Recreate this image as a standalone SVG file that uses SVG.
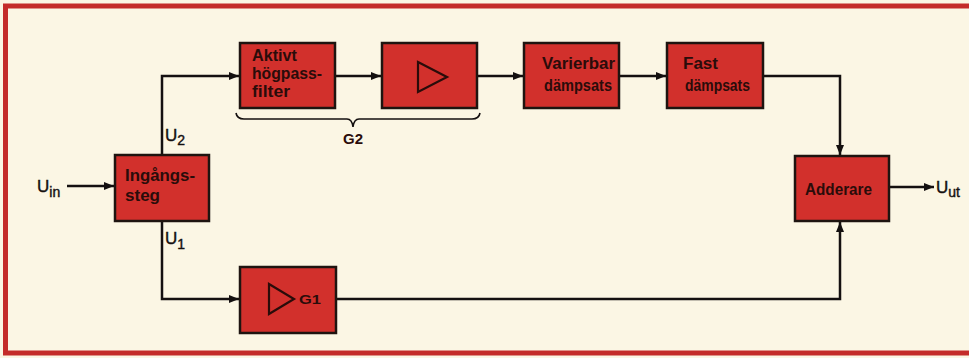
<svg xmlns="http://www.w3.org/2000/svg" width="969" height="358" viewBox="0 0 969 358">
<defs>
<style>
.box{fill:#d2302c;stroke:#1e1410;stroke-width:2.5}
.t{font-family:"Liberation Sans",Arial,sans-serif;font-weight:bold;font-size:16px;fill:#2a0c0a}
.lbl{font-family:"Liberation Sans",Arial,sans-serif;font-size:17px;fill:#141010;stroke:#141010;stroke-width:0.4}
.sub{font-size:14px}
.ln{fill:none;stroke:#141010;stroke-width:2.5}
.tri{fill:none;stroke:#2a0c0a;stroke-width:2.2;stroke-linejoin:miter}
</style>
<marker id="ah" viewBox="0 0 10 8" refX="10" refY="4" markerWidth="10" markerHeight="8" markerUnits="userSpaceOnUse" orient="auto">
<path d="M0,0 L10,4 L0,8 Z" fill="#141010"/>
</marker>
</defs>
<rect x="0" y="0" width="969" height="358" fill="#fbf6e4"/>
<rect x="5.5" y="6" width="966" height="347" fill="none" stroke="#c42c2a" stroke-width="5"/>

<g id="connectors">
<path class="ln" d="M67,186 L114,186" marker-end="url(#ah)"/>
<path class="ln" d="M162,155 L162,76 L239,76" marker-end="url(#ah)"/>
<path class="ln" d="M335,76 L381,76" marker-end="url(#ah)"/>
<path class="ln" d="M477,76 L523,76" marker-end="url(#ah)"/>
<path class="ln" d="M619,76 L666,76" marker-end="url(#ah)"/>
<path class="ln" d="M763,76 L840,76 L840,155" marker-end="url(#ah)"/>
<path class="ln" d="M162,221 L162,299 L239,299" marker-end="url(#ah)"/>
<path class="ln" d="M336,299 L840,299 L840,222" marker-end="url(#ah)"/>
<path class="ln" d="M889,187 L934,187" marker-end="url(#ah)"/>
</g>

<g id="brace">
<path d="M236,113 Q237,119 244,119 L347,119 Q352,119 353,127 Q354,119 359,119 L472,119 Q479,119 480,113" fill="none" stroke="#141010" stroke-width="1.6"/>
<text class="t" x="343" y="144" textLength="20" lengthAdjust="spacingAndGlyphs" style="font-size:14px">G2</text>
</g>

<g id="labels">
<text class="lbl" x="37" y="192">U<tspan class="sub" dy="5">in</tspan></text>
<text class="lbl" x="165" y="141">U<tspan class="sub" dy="4">2</tspan></text>
<text class="lbl" x="165" y="244">U<tspan class="sub" dy="5">1</tspan></text>
<text class="lbl" x="936" y="193">U<tspan class="sub" dy="4">ut</tspan></text>
</g>

<g id="ingangssteg">
<rect class="box" x="115" y="155" width="94" height="66"/>
<text class="t" x="125" y="181" textLength="70" lengthAdjust="spacingAndGlyphs">Ingångs-</text>
<text class="t" x="125" y="201" textLength="35" lengthAdjust="spacingAndGlyphs">steg</text>
</g>

<g id="hogpassfilter">
<rect class="box" x="240" y="43" width="95" height="65"/>
<text class="t" x="252" y="61" textLength="45" lengthAdjust="spacingAndGlyphs">Aktivt</text>
<text class="t" x="252" y="79" textLength="70" lengthAdjust="spacingAndGlyphs">högpass-</text>
<text class="t" x="252" y="97" textLength="38" lengthAdjust="spacingAndGlyphs">filter</text>
</g>

<g id="forstarkare2">
<rect class="box" x="382" y="43" width="95" height="65"/>
<path class="tri" d="M418,62 L447,77 L418,92 Z"/>
</g>

<g id="varierbar">
<rect class="box" x="524" y="43" width="95" height="65"/>
<text class="t" x="542" y="69" textLength="73" lengthAdjust="spacingAndGlyphs">Varierbar</text>
<text class="t" x="544" y="91" textLength="68" lengthAdjust="spacingAndGlyphs">dämpsats</text>
</g>

<g id="fast">
<rect class="box" x="667" y="43" width="96" height="65"/>
<text class="t" x="683" y="69" textLength="35" lengthAdjust="spacingAndGlyphs">Fast</text>
<text class="t" x="685" y="91" textLength="65" lengthAdjust="spacingAndGlyphs">dämpsats</text>
</g>

<g id="adderare">
<rect class="box" x="795" y="156" width="94" height="65"/>
<text class="t" x="805" y="195" textLength="67" lengthAdjust="spacingAndGlyphs">Adderare</text>
</g>

<g id="forstarkare1">
<rect class="box" x="240" y="267" width="96" height="66"/>
<path class="tri" d="M269,284 L294,299 L269,314 Z"/>
<text class="t" x="299" y="304" textLength="22" lengthAdjust="spacingAndGlyphs" style="font-size:13px">G1</text>
</g>
</svg>
